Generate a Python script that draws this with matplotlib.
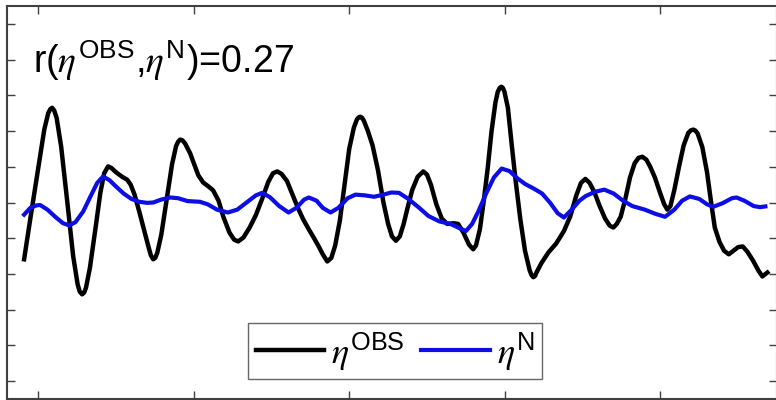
import numpy as np
import matplotlib
matplotlib.use('Agg')
import matplotlib.pyplot as plt

plt.rcParams['font.family'] = ['Liberation Sans', 'DejaVu Sans']
plt.rcParams['mathtext.fontset'] = 'custom'
plt.rcParams['mathtext.rm'] = 'Liberation Sans'
plt.rcParams['mathtext.it'] = 'STIXGeneral:italic'

# observed signal
t_obs = [-0.90, -0.5, 0.0, 0.4, 0.65, 0.78, 0.90, 1.03, 1.19, 1.48, 1.87, 2.25, 2.54,
         2.68, 2.83, 2.96, 3.08, 3.33, 3.67, 4.0, 4.25, 4.50, 4.7, 5.0, 5.4, 5.72,
         5.95, 6.2, 6.5, 6.8, 7.1, 7.25, 7.40, 7.53, 7.66, 7.92, 8.27, 8.61, 8.87,
         9.0, 9.13, 9.28, 9.45, 9.77, 10.05, 10.3, 10.61, 10.95, 11.25, 11.6, 11.9,
         12.3, 12.6, 12.86, 13.2, 13.6, 14.0, 14.4, 14.8, 15.1, 15.37, 15.65, 16.0,
         16.4, 16.7, 17.04, 17.4, 17.7, 18.0, 18.3, 18.59, 18.85, 19.1, 19.4, 19.7,
         20.0, 20.3, 20.5, 20.6, 20.71, 20.83, 20.95, 21.2, 21.5, 21.85, 22.2, 22.5,
         22.75, 23.0, 23.25, 23.5, 23.75, 24.05, 24.4, 24.76, 25.0, 25.25, 25.6,
         25.95, 26.3, 26.7, 27.0, 27.35, 27.7, 27.97, 28.15, 28.4, 28.65, 28.9,
         29.15, 29.4, 29.55, 29.68, 29.78, 29.87, 29.98, 30.2, 30.45, 30.7, 31.0,
         31.3, 31.6, 31.72, 31.83, 31.94, 32.05, 32.35, 32.8, 33.3, 33.8, 34.2,
         34.6, 34.9, 35.18, 35.45, 35.75, 36.1, 36.45, 36.75, 36.98, 37.2, 37.45,
         37.75, 38.05, 38.35, 38.6, 38.84, 39.1, 39.35, 39.65, 40.0, 40.25, 40.45,
         40.65, 40.9, 41.2, 41.5, 41.8, 41.97, 42.12, 42.26, 42.4, 42.7, 43.0,
         43.25, 43.5, 43.8, 44.1, 44.4, 44.7, 45.0, 45.3, 45.6, 45.95, 46.3, 46.56,
         46.88]
eta_obs = [-1.59, -0.45, 0.95, 2.05, 2.5, 2.61, 2.65, 2.58, 2.37, 1.57, 0.04, -1.49, -2.29,
           -2.5, -2.57, -2.52, -2.38, -1.83, -0.78, 0.27, 0.82, 1.01, 0.97, 0.85, 0.72, 0.64,
           0.50, 0.22, -0.25, -0.75, -1.25, -1.48, -1.59, -1.55, -1.41, -0.90, 0.09, 1.07, 1.58,
           1.70, 1.76, 1.74, 1.65, 1.38, 1.05, 0.76, 0.56, 0.45, 0.34, 0.05, -0.39,
           -0.84, -1.04, -1.09, -0.98, -0.7, -0.35, 0.1, 0.58, 0.82, 0.87, 0.80, 0.6,
           0.17, -0.15, -0.47, -0.75, -0.97, -1.2, -1.45, -1.65, -1.55, -1.2, -0.5, 0.5,
           1.5, 2.1, 2.33, 2.38, 2.40, 2.37, 2.28, 2.0, 1.6, 0.9, 0.0, -0.6,
           -0.95, -1.07, -0.95, -0.6, -0.15, 0.35, 0.72, 0.87, 0.78, 0.5, -0.05,
           -0.45, -0.6, -0.58, -0.6, -0.85, -1.18, -1.31, -1.2, -0.75, 0.05, 0.95,
           2.0, 2.8, 3.1, 3.21, 3.24, 3.21, 3.1, 2.65, 1.6, 0.6, -0.47,
           -1.35, -1.9, -2.03, -2.09, -2.06, -1.95, -1.7, -1.4, -1.15, -0.8, -0.4,
           0.2, 0.55, 0.66, 0.55, 0.3, -0.1, -0.45, -0.65, -0.70, -0.6, -0.4,
           0.1, 0.7, 1.1, 1.25, 1.28, 1.2, 1.0, 0.7, 0.25, -0.05, -0.2,
           -0.1, 0.35, 1.0, 1.6, 1.95, 2.02, 2.04, 2.01, 1.93, 1.55, 0.85,
           0.05, -0.7, -1.1, -1.35, -1.45, -1.35, -1.25, -1.23, -1.38, -1.62, -1.9, -2.07,
           -1.96]

# model signal
t_n = [-0.90, -0.5, -0.1, 0.13, 0.6, 1.1, 1.6, 2.0, 2.4, 2.9, 3.4, 3.8, 4.18, 4.6,
       5.0, 5.5, 6.0, 6.5, 7.0, 7.4, 7.9, 8.5, 9.0, 9.6, 10.4, 10.9, 11.5, 12.2,
       12.8, 13.4, 14.0, 14.4, 14.9, 15.5, 16.1, 16.6, 17.1, 17.4, 17.9, 18.3,
       18.8, 19.3, 19.9, 20.4, 21.0, 21.6, 22.2, 22.7, 23.2, 23.8, 24.5, 25.1,
       25.8, 26.5, 27.0, 27.5, 27.9, 28.3, 28.8, 29.3, 29.8, 30.3, 30.8, 31.3,
       31.9, 32.4, 32.9, 33.4, 33.8, 34.3, 34.8, 35.2, 35.8, 36.4, 37.0, 37.6,
       38.2, 39.0, 39.7, 40.3, 40.9, 41.4, 41.9, 42.5, 43.0, 43.4, 44.0, 44.6,
       44.9, 45.4, 46.0, 46.4, 46.75]
eta_n = [-0.34, -0.15, -0.08, -0.07, -0.2, -0.4, -0.58, -0.64, -0.55, -0.25, 0.2, 0.55, 0.73, 0.62,
         0.45, 0.25, 0.1, 0.02, -0.01, 0.0, 0.08, 0.14, 0.12, 0.04, 0.02, -0.05, -0.2, -0.28,
         -0.2, 0.0, 0.2, 0.27, 0.15, -0.1, -0.28, -0.15, 0.08, 0.14, 0.05, -0.15,
         -0.28, -0.15, 0.12, 0.22, 0.2, 0.16, 0.22, 0.28, 0.27, 0.1, -0.15, -0.38,
         -0.53, -0.6, -0.7, -0.8, -0.6, -0.25, 0.25, 0.7, 0.95, 0.88, 0.68, 0.52,
         0.38, 0.25, 0.0, -0.3, -0.42, -0.2, 0.05, 0.18, 0.3, 0.36, 0.25, 0.05,
         -0.1, -0.2, -0.32, -0.4, -0.2, 0.05, 0.17, 0.1, -0.05, -0.12, -0.02, 0.12,
         0.14, 0.05, -0.1, -0.13, -0.11]

r_val = 0.27
xticks = [0, 10, 20, 30, 40]
yticks = [-5, -4, -3, -2, -1, 0, 1, 2, 3, 4, 5]

fig = plt.figure(figsize=(7.76, 4.0), dpi=100)
ax = fig.add_axes([7 / 776, 1 / 400, 770 / 776, 393 / 400])

ax.plot(t_obs, eta_obs, color='black', lw=3.2, solid_joinstyle='round',
        label=r'$\eta^{\rm OBS}$')
ax.plot(t_n, eta_n, color=(0.05, 0.05, 0.9), lw=3.0, solid_joinstyle='round',
        label=r'$\eta^{\rm N}$')

ax.set_xlim(-2, 47.5)
ax.set_ylim(-5.5, 5.5)
ax.set_xticks(xticks)
ax.set_yticks(yticks)
ax.tick_params(direction='in', length=6, width=1, color='#404040',
               top=True, right=True, labelbottom=False, labelleft=False)
for s in ax.spines.values():
    s.set_linewidth(1.5)
    s.set_color('#404040')

ax.text(0.034, 0.83, r'r($\eta^{\rm OBS}$,$\eta^{\rm N}$)=%.2f' % r_val,
        transform=ax.transAxes, fontsize=27, va='baseline', ha='left')

leg = ax.legend(loc='center', bbox_to_anchor=(0.504, 0.122), ncol=2,
                fontsize=26, frameon=True, fancybox=False, handlelength=1.9,
                handletextpad=0.2, columnspacing=0.45, borderpad=0.2,
                borderaxespad=0)
leg.get_frame().set_edgecolor('#404040')
leg.get_frame().set_linewidth(1.0)

fig.savefig('out.png', dpi=100)
